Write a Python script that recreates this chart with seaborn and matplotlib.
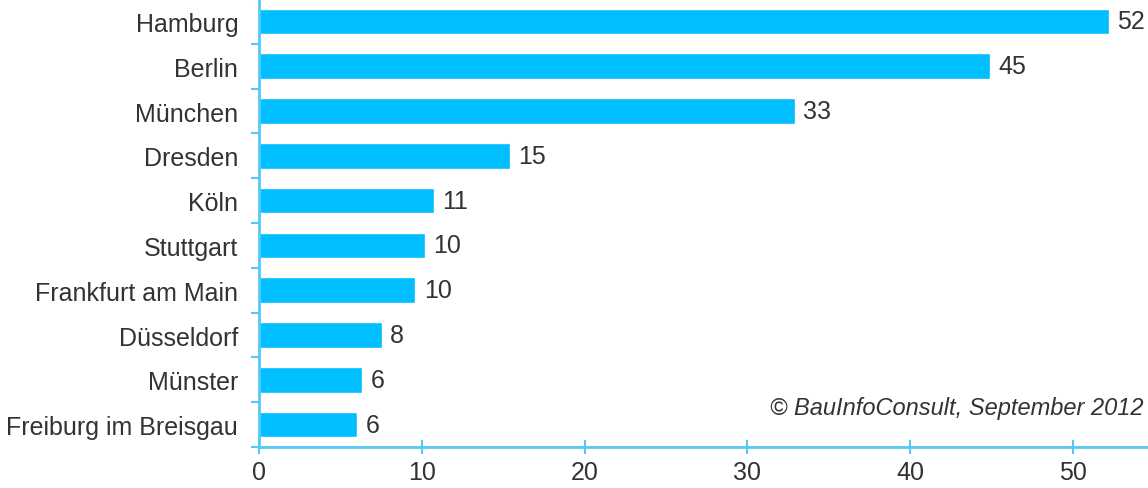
import numpy as np
import pandas as pd
import matplotlib
matplotlib.use('Agg')
import matplotlib.pyplot as plt
import seaborn as sns

# data
cities = ['Hamburg', 'Berlin', 'München', 'Dresden', 'Köln', 'Stuttgart',
          'Frankfurt am Main', 'Düsseldorf', 'Münster', 'Freiburg im Breisgau']
values = [52.2, 44.9, 32.9, 15.4, 10.75, 10.2, 9.6, 7.55, 6.35, 6.05]
x_ticks = [0, 10, 20, 30, 40, 50]
source_note = '© BauInfoConsult, September 2012'

df = pd.DataFrame({'city': cities, 'value': values})

sns.set_style('white')
plt.rcParams['font.family'] = ['Liberation Sans', 'DejaVu Sans']

bar_color = '#00BEFF'
axis_color = '#55C8F5'
text_color = '#333333'

fig = plt.figure(figsize=(11.48, 4.89), dpi=100)
ax = fig.add_axes([0.2256, 0.0838, 0.7744, 0.9162])

sns.barplot(data=df, x='value', y='city', orient='h', color=bar_color,
            width=0.57, saturation=1, ax=ax)

for c in ax.containers:
    ax.bar_label(c, fmt='{:.0f}', padding=6, fontsize=18, color=text_color)

ax.set_xlim(0, 54.6)
ax.set_ylim(len(cities) - 0.5, -0.5)
ax.set_xticks(x_ticks)
ax.set_xlabel('')
ax.set_ylabel('')

# y ticks sit between the categories
ax.set_yticks(np.arange(len(cities)))
ax.set_yticklabels(cities)
ax.set_yticks(np.arange(len(cities) + 1) - 0.5, minor=True)
ax.tick_params(axis='y', which='major', left=False, length=0, pad=15, labelsize=18,
               labelcolor=text_color)
ax.tick_params(axis='y', which='minor', left=True, length=6, width=1.5,
               color=axis_color, direction='out')
ax.tick_params(axis='x', bottom=True, length=10, width=1.5, color=axis_color,
               direction='inout', labelsize=18, labelcolor=text_color, pad=4)

for s in ['top', 'right']:
    ax.spines[s].set_visible(False)
for s in ['left', 'bottom']:
    ax.spines[s].set_color(axis_color)
    ax.spines[s].set_linewidth(2)

ax.text(0.995, 0.089, source_note, transform=ax.transAxes, ha='right', va='center',
        fontsize=17, style='italic', color=text_color)

plt.savefig('out.png', dpi=100)
